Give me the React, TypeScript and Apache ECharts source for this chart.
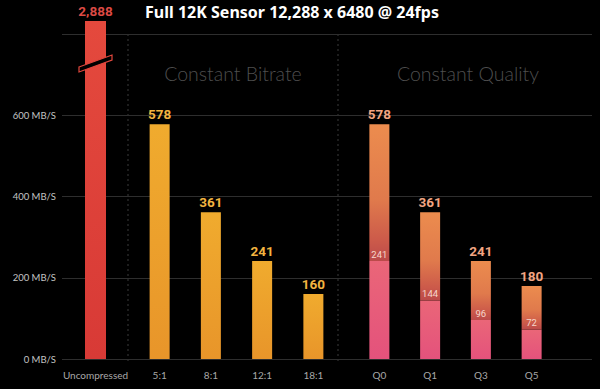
import React, { useEffect, useRef } from "react";
import * as echarts from "echarts";

const title = "Full 12K Sensor 12,288 x 6480 @ 24fps";
const uncompressedCategory = ["Uncompressed"];
const uncompressedValues = [2888];
const bitrateCategories = ["5:1", "8:1", "12:1", "18:1"];
const bitrateValues = [578, 361, 241, 160];
const qualityCategories = ["Q0", "Q1", "Q3", "Q5"];
const qualityTotals = [578, 361, 241, 180];
const qualityInner = [241, 144, 96, 72];
const yMin = 0;
const yMax = 800;
const yInterval = 200;
const sectionLabels = ["Constant Bitrate", "Constant Quality"];

const NARROW = "Roboto, 'Liberation Sans', sans-serif";
const LIGHT = "Lato, 'Open Sans', sans-serif";

export default function App() {
  const ref = useRef<HTMLDivElement>(null);
  useEffect(() => {
    if (!ref.current) return;
    const chart = echarts.init(ref.current, null, { renderer: "svg" });
    const qualityUpper = qualityTotals.map((t, i) => t - qualityInner[i]);
    const fmt = (v: number) => v.toLocaleString("en-US");
    const grad = (stops: [number, string][]) =>
      new echarts.graphic.LinearGradient(0, 0, 0, 1, stops.map(([offset, color]) => ({ offset, color })));

    const hiddenY = (gridIndex: number, max?: number) => ({
      type: "value" as const,
      gridIndex,
      min: 0,
      max,
      show: false,
      splitLine: { show: false },
    });
    const catX = (gridIndex: number, data: string[], show = true) => ({
      type: "category" as const,
      gridIndex,
      data,
      show,
      axisLine: { show: false },
      axisTick: { show: false },
      axisLabel: { color: "#a8a8a8", fontSize: 10, fontFamily: LIGHT, margin: 11 },
    });

    chart.setOption({
      animation: false,
      backgroundColor: "#000",
      grid: [
        { left: 62, right: 8, top: 34, bottom: 30 },
        { left: 70, width: 51, top: 21, bottom: 30 },
        { left: 134, width: 205, top: 34, bottom: 30 },
        { left: 354, width: 203, top: 34, bottom: 30 },
      ],
      xAxis: [
        catX(0, [""], false),
        catX(1, uncompressedCategory),
        catX(2, bitrateCategories),
        catX(3, qualityCategories),
      ],
      yAxis: [
        {
          type: "value",
          gridIndex: 0,
          min: yMin,
          max: yMax,
          interval: yInterval,
          axisLine: { show: false },
          axisTick: { show: false },
          axisLabel: {
            color: "#c4c4c4",
            fontSize: 9.5,
            fontFamily: LIGHT,
            margin: 6,
            formatter: (v: number) => (v === yMax ? "" : `${v} MB/S`),
          },
          splitLine: { lineStyle: { color: "#2e2e2e", width: 1 } },
        },
        hiddenY(1, uncompressedValues[0]),
        hiddenY(2, yMax),
        hiddenY(3, yMax),
      ],
      series: [
        {
          type: "bar",
          xAxisIndex: 1,
          yAxisIndex: 1,
          data: uncompressedValues,
          barWidth: 21,
          itemStyle: { color: grad([[0, "#e4493d"], [1, "#d83a36"]]) },
          label: {
            show: true,
            position: "top",
            distance: 3,
            color: "#dc4a44",
            fontSize: 13.5,
            fontWeight: "bold",
            fontFamily: NARROW,
            formatter: (p: any) => fmt(p.value),
          },
        },
        {
          type: "bar",
          xAxisIndex: 2,
          yAxisIndex: 2,
          data: bitrateValues,
          barWidth: 20,
          itemStyle: { color: grad([[0, "#f0ab2e"], [1, "#e8952a"]]) },
          label: {
            show: true,
            position: "top",
            distance: 3,
            color: "#f2b440",
            fontSize: 13.5,
            fontWeight: "bold",
            fontFamily: NARROW,
          },
        },
        {
          type: "bar",
          xAxisIndex: 3,
          yAxisIndex: 3,
          stack: "q",
          data: qualityInner,
          barWidth: 20,
          itemStyle: { color: grad([[0, "#ea6678"], [1, "#e4527c"]]) },
          label: {
            show: true,
            position: "top",
            distance: 2,
            color: "#f6d6cc",
            fontSize: 9.5,
            fontFamily: NARROW,
          },
        },
        {
          type: "bar",
          xAxisIndex: 3,
          yAxisIndex: 3,
          stack: "q",
          data: qualityUpper,
          barWidth: 20,
          itemStyle: {
            color: grad([
              [0, "#ec8c4e"],
              [0.55, "#e07a4c"],
              [0.85, "#cc5a4a"],
              [1, "#bb4a4a"],
            ]),
          },
          label: {
            show: true,
            position: "top",
            distance: 3,
            color: "#f2a582",
            fontSize: 13.5,
            fontWeight: "bold",
            fontFamily: NARROW,
            formatter: (p: any) => fmt(qualityTotals[p.dataIndex]),
          },
        },
      ],
      graphic: [
        {
          type: "text",
          x: 292,
          y: 12,
          style: {
            text: title,
            fill: "#ffffff",
            fontSize: 16,
            fontWeight: "bold",
            fontFamily: "'Noto Sans', sans-serif",
            textAlign: "center",
            textVerticalAlign: "middle",
          },
        },
        {
          type: "text",
          x: 233,
          y: 73,
          style: {
            text: sectionLabels[0],
            fill: "#4e4e4e",
            fontSize: 19.5,
            fontWeight: 300,
            fontFamily: LIGHT,
            textAlign: "center",
            textVerticalAlign: "middle",
          },
        },
        {
          type: "text",
          x: 468,
          y: 73,
          style: {
            text: sectionLabels[1],
            fill: "#4e4e4e",
            fontSize: 19.5,
            fontWeight: 300,
            fontFamily: LIGHT,
            textAlign: "center",
            textVerticalAlign: "middle",
          },
        },
        {
          type: "line",
          shape: { x1: 128, y1: 34, x2: 128, y2: 362 },
          style: { stroke: "#3a3a3a", lineWidth: 1, lineDash: [2, 3] },
        },
        {
          type: "line",
          shape: { x1: 338, y1: 34, x2: 338, y2: 362 },
          style: { stroke: "#3a3a3a", lineWidth: 1, lineDash: [2, 3] },
        },
        {
          type: "polygon",
          shape: { points: [[79, 67], [112, 55], [112, 60], [79, 72]] },
          style: { fill: "#000", stroke: "#e2473d", lineWidth: 1.2 },
          z: 100,
        },
      ],
    });
    return () => chart.dispose();
  }, []);
  return (
    <div
      ref={ref}
      style={{ position: "fixed", left: 0, top: 0, width: 600, height: 389, background: "#000" }}
    />
  );
}
